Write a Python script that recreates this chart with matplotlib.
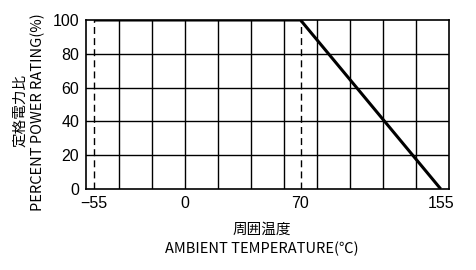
import matplotlib
matplotlib.use("Agg")
import matplotlib.pyplot as plt

# derating curve
temp = [-55, 70, 155]
power = [100, 100, 0]
dash_x = [-55, 70]

xticks = [-55, 0, 70, 155]
yticks = [0, 20, 40, 60, 80, 100]
xgrid = [-40, -20, 0, 20, 40, 60, 80, 100, 120, 140]
ygrid = [20, 40, 60, 80]

W, H = 476, 270
fig = plt.figure(figsize=(W / 100, H / 100), dpi=100)
ax = fig.add_axes([86 / W, 1 - 189 / H, (449 - 86) / W, (189 - 20) / H])

num_font = ['Liberation Sans', 'DejaVu Sans']
lab_font = ['Noto Sans CJK JP', 'DejaVu Sans']

for gx in xgrid:
    ax.axvline(gx, color='black', lw=1.0)
for gy in ygrid:
    ax.axhline(gy, color='black', lw=1.0)
for dx in dash_x:
    ax.plot([dx, dx], [0, 100], color='black', lw=1.0, linestyle=(0, (5, 3)))

ax.plot(temp, power, color='black', lw=2.2, solid_capstyle='butt')

ax.set_xlim(-60, 160)
ax.set_ylim(0, 100)
ax.set_xticks(xticks)
ax.set_yticks(yticks)
ax.tick_params(axis='x', length=0, pad=5, labelsize=11.5)
ax.tick_params(axis='y', length=0, pad=5, labelsize=11.5)
for lbl in ax.get_xticklabels() + ax.get_yticklabels():
    lbl.set_family(num_font)
for s in ax.spines.values():
    s.set_linewidth(1.2)

fig.text(262 / W, 1 - 230 / H, "周囲温度", family=lab_font, fontsize=10.5,
         ha='center', va='center')
fig.text(262 / W, 1 - 249 / H, "AMBIENT TEMPERATURE(℃)", family=lab_font, fontsize=10.5,
         ha='center', va='center')
fig.text(20 / W, 1 - 110 / H, "定格電力比", family=lab_font, fontsize=10.5,
         ha='center', va='center', rotation=90)
fig.text(38 / W, 1 - 112 / H, "PERCENT POWER RATING(%)", family=lab_font, fontsize=10.5,
         ha='center', va='center', rotation=90)

fig.savefig("out.png", dpi=100)
